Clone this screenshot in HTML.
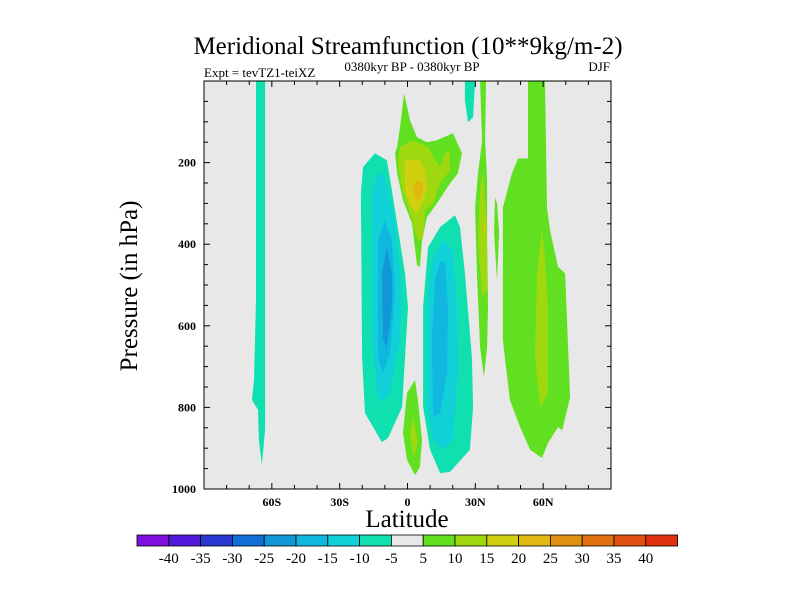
<!DOCTYPE html>
<html><head><meta charset="utf-8"><style>
body{margin:0;background:#fff;}
svg text{font-family:"Liberation Serif",serif;}
</style></head><body>
<svg id="chart" width="800" height="600" viewBox="0 0 800 600" xmlns="http://www.w3.org/2000/svg">
<text x="408" y="54" text-anchor="middle" font-size="25">Meridional Streamfunction (10**9kg/m-2)</text>
<text x="204" y="77" font-size="13">Expt = tevTZ1-teiXZ</text>
<text x="412" y="71" text-anchor="middle" font-size="13">0380kyr BP - 0380kyr BP</text>
<text x="610" y="71" text-anchor="end" font-size="13">DJF</text>
<rect x="204" y="81" width="407" height="408" fill="#e8e8e8"/>
<g id="contours"></g>
<g id="axes"></g>
<rect x="204" y="81" width="407" height="408" fill="none" stroke="#000" stroke-width="1"/>
<text transform="translate(137,286) rotate(-90)" text-anchor="middle" font-size="25">Pressure (in hPa)</text>
<text x="407" y="527" text-anchor="middle" font-size="25">Latitude</text>
<g id="colorbar"></g>
</svg>
<script>
const levels=[-40,-35,-30,-25,-20,-15,-10,-5,5,10,15,20,25,30,35,40];
const bandColors=["#8010e0","#5018d8","#2838d0","#1070d8","#1098d8","#10b8e0","#10d0d8","#10e0b0","#e8e8e8","#60e020","#a0d810","#d0d010","#e0b810","#e09010","#e07010","#e05010","#e03010"];
const xTickVals=[-60,-30,0,30,60];
const xTickLabels=["60S","30S","0","30N","60N"];
const yTickVals=[200,400,600,800,1000];
const contourLevels=[-5,-5,-10,-15,-20,-5,-10,-15,5,10,15,20,5,10,5,10,15,5,-5,5,10];
const contourShapes=[
[[-67,1],[-63,1],[-63,855],[-64.4,941],[-65.7,880],[-66.1,806],[-68.8,782],[-67.9,733],[-67,537]],
[[-14.4,177],[-19.7,211],[-20.6,275],[-20.1,677],[-18.8,814],[-11.3,885],[-8.6,875],[-2.4,799],[0.2,554],[-1.1,471],[-6.4,285],[-9.1,194]],
[[-13,224],[-15.7,268],[-15.7,635],[-13.5,765],[-11.3,787],[-7.7,765],[-3.3,635],[-2.4,513],[-5.5,349],[-10,236]],
[[-10,342],[-13,391],[-13,677],[-10.8,716],[-7.7,667],[-5.5,513],[-6.9,391]],
[[-9.1,408],[-11.3,471],[-10.8,635],[-9.1,653],[-6.9,554],[-6.9,471]],
[[21,329],[14.4,358],[9.1,407],[6.9,554],[6.9,799],[10,904],[14.4,961],[18.8,958],[27.6,904],[29,799],[28.5,677],[25.4,471],[23.2,358]],
[[15.7,391],[10.8,440],[8.6,554],[8.6,799],[11.3,880],[15.7,904],[20.1,880],[22.3,717],[21.9,554],[20.1,415]],
[[14.4,440],[12.2,489],[10.8,635],[11.3,824],[14.4,814],[17.5,717],[17.9,554],[16.6,447]],
[[-1.5,30],[1.1,96],[4.2,138],[8.6,150],[13,145],[20.1,128],[24.1,177],[22.3,226],[18.8,251],[13,300],[8.6,334],[6.4,391],[5.5,456],[4.2,451],[2,349],[-2,292],[-4.6,226],[-5.5,177],[-4.6,162],[-3.3,114]],
[[-3.3,162],[-4.2,202],[-2.4,268],[1.1,324],[4.6,391],[6.9,384],[7.7,318],[11.3,300],[14.4,251],[18.8,219],[18.8,170],[16.6,177],[14.4,211],[12.2,194],[9.1,162],[2.4,145]],
[[-1.1,194],[-1.1,268],[1.1,305],[4.2,324],[6.9,292],[8.6,261],[7.7,219],[5.5,194]],
[[4.2,243],[2.4,268],[3.3,288],[5.5,292],[6.9,268],[6.4,248]],
[[3.3,733],[-0.2,765],[-2,863],[-0.2,929],[3.3,966],[5.5,946],[6.4,880],[4.6,782]],
[[2.4,824],[1.1,873],[2.9,922],[4.6,880]],
[[33.8,1],[34.7,1],[34.3,146],[35.2,244],[35.2,391],[35.6,554],[35.2,652],[33.8,726],[32.1,652],[30.7,471],[29.9,310],[31.2,226],[33,146],[32.1,1]],
[[33.4,226],[35.2,358],[35.2,513],[33,529],[31.2,391],[32.1,268]],
[[33.8,342],[34.7,358],[33.8,374]],
[[38.7,285],[39.6,300],[40.5,373],[39.6,489],[38.3,373]],
[[25.4,1],[29.9,1],[29,89],[26.8,101],[25.4,47]],
[[53.3,1],[60.8,1],[61.7,310],[63,366],[66.6,456],[69.7,471],[71.9,775],[68.4,856],[66.6,848],[62.1,888],[59.5,924],[54.2,904],[49.8,848],[45.3,782],[42.2,635],[42.2,310],[46.2,226],[48.9,190],[53.3,190]],
[[59.5,366],[57.3,471],[56.4,677],[58.6,799],[62.1,765],[62.1,554],[60.8,432]]
];
const NS="http://www.w3.org/2000/svg";
const X0=204,X1=611,Y0=81,Y1=489;
function xs(lat){return X0+(lat+90)/180*(X1-X0);}
function ys(p){return Y0+p/1000*(Y1-Y0);}
function levelColor(l){
  if(l<0){return bandColors[levels.indexOf(l)];}
  return bandColors[levels.indexOf(l)+1];
}
const cg=document.getElementById('contours');
contourShapes.forEach((sh,i)=>{
  const pg=document.createElementNS(NS,'polygon');
  pg.setAttribute('points',sh.map(q=>xs(q[0]).toFixed(1)+','+ys(q[1]).toFixed(1)).join(' '));
  pg.setAttribute('fill',levelColor(contourLevels[i]));
  
  
  cg.appendChild(pg);
});
const ag=document.getElementById('axes');
function line(x1,y1,x2,y2,name){
  const l=document.createElementNS(NS,'line');
  l.setAttribute('x1',x1);l.setAttribute('y1',y1);l.setAttribute('x2',x2);l.setAttribute('y2',y2);
  l.setAttribute('stroke','#000');l.setAttribute('stroke-width','1');
  
  
  ag.appendChild(l);
}
function text(x,y,s,anchor,name,size){
  const t=document.createElementNS(NS,'text');
  t.setAttribute('x',x);t.setAttribute('y',y);t.setAttribute('text-anchor',anchor);
  t.setAttribute('font-size',size);t.setAttribute('font-weight','bold');t.textContent=s;
  
  
  return t;
}
for(let lat=-80;lat<=80;lat+=10){
  const major=lat%30===0;const L=major?6:4;
  line(xs(lat),Y1,xs(lat),Y1-L,'x-tick');
  line(xs(lat),Y0,xs(lat),Y0+L,'x-tick');
}
for(let p=50;p<1000;p+=50){
  const major=p%200===0;const L=major?6:4;
  line(X0,ys(p),X0+L,ys(p),'y-tick');
  line(X1,ys(p),X1-L,ys(p),'y-tick');
}
xTickVals.forEach((v,i)=>ag.appendChild(text(xs(v),506,xTickLabels[i],'middle','x-tick-label',12)));
yTickVals.forEach(v=>ag.appendChild(text(196,ys(v)+4,String(v),'end','y-tick-label',12)));
const cb=document.getElementById('colorbar');
const bw=31.8,bx=137,by=535,bh=11;
bandColors.forEach((c,i)=>{
  const r=document.createElementNS(NS,'rect');
  r.setAttribute('x',bx+i*bw);r.setAttribute('y',by);r.setAttribute('width',bw);r.setAttribute('height',bh);
  r.setAttribute('fill',c);r.setAttribute('stroke','#000');r.setAttribute('stroke-width','0.8');
  
  
  cb.appendChild(r);
});
levels.forEach((v,i)=>{
  const t=document.createElementNS(NS,'text');
  t.setAttribute('x',bx+(i+1)*bw);t.setAttribute('y',563);t.setAttribute('text-anchor','middle');
  t.setAttribute('font-size','15');t.textContent=String(v);
  
  
  cb.appendChild(t);
});
</script>
</body></html>
